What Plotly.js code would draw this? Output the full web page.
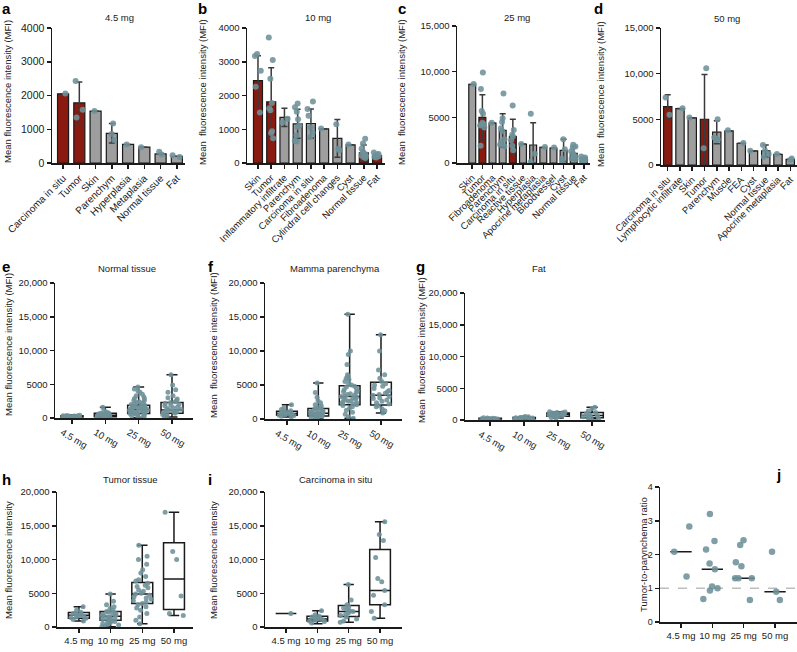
<!DOCTYPE html>
<html><head><meta charset="utf-8">
<script src="https://cdn.plot.ly/plotly-3.0.1.min.js"></script>
<style>html,body{margin:0;padding:0;background:#fff}#chart{width:797px;height:652px}</style>
</head><body><div id="chart"></div>
<script>
// ---------------- DATA ----------------
// Panel a: 4.5 mg
const aCats = ['Carcinoma in situ','Tumor','Skin','Parenchym','Hyperplasia','Metaplasia','Normal tissue','Fat'];
const aMeans = [2050,1780,1540,880,550,470,270,200];
const aErr = [null,620,null,290,null,null,null,null];
const aRed = [1,1,0,0,0,0,0,0];
const aDots = [[2060],[2430,1350,1580],[1540],[1170,680,860],[550],[470],[330,250],[230,180]];

// Panel b: 10 mg
const bCats = ['Skin','Tumor','Inflammatory infiltrate','Parenchym','Carcinoma in situ','Fibroadenoma','Cylindral cell changes','Cyst','Normal tissue','Fat'];
const bMeans = [2440,1810,1350,1160,1170,1010,730,540,300,220];
const bErr = [740,1010,270,430,430,null,560,null,230,null];
const bRed = [1,1,0,0,0,0,0,0,1,1];
const bDots = [[3230,3170,2730,2260,1500],[3720,3050,2500,1780,1620,1560,940,890,730],[1310,1200],
  [1760,1650,1520,1300,1110,1060,820,660,640],[1820,1600,1400,1050,900,760],[1020],[1150,420,380],[550],
  [720,580,420,330,300,260,220,200,180,150],[310,270,250,220,200,180,160]];

// Panel c: 25 mg
const cCats = ['Skin','Tumor','Fibroadenoma','Parenchym','Carcinoma in situ','Reactive tissue','Hyperplasia','Apocrine metaplasia','Bloodvessel','Cyst','Normal tissue','Fat'];
const cMeans = [8600,4990,4370,3570,2910,2080,1970,1710,1640,1380,1050,550];
const cErr = [null,2470,null,1830,1890,null,2430,null,null,1220,750,null];
const cRed = [0,1,0,0,1,0,0,0,0,0,0,0];
const cDots = [[8650],[9900,8100,5700,5400,4400,4300,4200,4100,3900,1900],[4400],[7600,4900,4500,3800,3500,2600,2300,2000,1800],
  [6300,3600,3100,2900,2500,1900,1400],[2080],[5400,1000,100],[1750],[1700],[2600,1500,500,100],
  [2000,1800,1700,1300,1100,900,700,500,400],[700,600,500,400,300,200]];

// Panel d: 50 mg
const dCats = ['Carcinoma in situ','Lymphocytic infiltrate','Skin','Tumor','Parenchym','Muscle','FEA','Cyst','Normal tissue','Apocrine metaplasia','Fat'];
const dMeans = [6400,6180,5160,5010,3590,3730,2380,1540,1540,1170,620];
const dErr = [1300,null,null,4900,1250,null,null,null,650,null,null];
const dRed = [1,0,0,1,0,0,0,0,0,0,0];
const dDots = [[7390,5490],[6200],[5200],[10600,1830],[5000,3000,2900,2800,2700],[3800],[2400],[1560],[2200,1600,1200,900],[1200],[700,550]];

// Box-plot panels (e-i)
const doses = ['4.5 mg','10 mg','25 mg','50 mg'];

// e: Normal tissue
const eMin = [50,50,50,150], eQ1 = [150,200,650,700], eMed = [250,400,1250,1200], eQ3 = [350,700,1900,2300], eMax = [450,1600,4600,6400];
const ePts = [[420,380,350,330,300,280,260,240,220,200,180,150,120,100,80,60],
  [1600,1100,900,750,700,650,600,550,500,450,400,380,350,300,250,200,180,150,100,60],
  [4600,4300,4000,3800,3500,3300,3100,2900,2800,2600,2500,2400,2300,2200,2100,2000,1900,1850,1800,1700,1650,1600,1500,1450,1400,1300,1250,1200,1150,1100,1000,950,900,850,800,750,700,650,600,500,400,300,200,100,50],
  [6400,4900,4200,3800,3300,3000,2800,2600,2400,2300,2200,2000,1900,1800,1600,1500,1400,1300,1200,1100,1000,950,900,800,700,600,500,400,300,150]];

// f: Mamma parenchyma
const fMin = [300,50,100,900], fQ1 = [550,450,2100,2050], fMed = [800,850,3300,3500], fQ3 = [1150,1550,4900,5400], fMax = [2100,5300,15400,12400];
const fPts = [[2100,1600,1400,1200,1100,1000,900,850,800,750,700,600,550,500,400,300],
  [5300,3900,3200,2700,2400,2100,1900,1700,1600,1500,1400,1300,1200,1100,1000,950,900,850,800,700,650,600,500,450,400,300,200,100,50],
  [15400,10000,9500,8000,6500,6200,6000,5800,5500,5200,5000,4800,4700,4500,4300,4100,4000,3900,3700,3600,3500,3400,3300,3200,3100,3000,2900,2800,2700,2600,2500,2400,2300,2200,2100,2000,1800,1600,1300,1000,700,300,100],
  [12400,10000,7200,6500,6000,5500,5200,5000,4800,4500,4200,4000,3800,3600,3500,3300,3100,3000,2800,2600,2400,2200,2000,1800,1500,1200,900]];

// g: Fat
const gMin = [100,100,300,200], gQ1 = [150,200,600,350], gMed = [200,300,900,700], gQ3 = [280,400,1100,1200], gMax = [350,550,1300,2000];
const gPts = [[350,300,280,250,220,200,180,150,120,100],
  [550,500,450,400,350,320,300,280,250,200,150,100],
  [1300,1250,1200,1150,1100,1050,1000,950,900,850,800,750,700,650,600,500,400,300],
  [2000,1800,1400,1200,1000,800,700,600,500,400,300,200]];

// h: Tumor tissue
const hMin = [900,50,500,1700], hQ1 = [1300,1000,3500,2600], hMed = [1750,1600,4900,7100], hQ3 = [2150,2300,6600,12500], hMax = [3000,4900,12100,17000];
const hPts = [[3000,2500,2200,2000,1900,1800,1700,1600,1500,1400,1300,1100,900],
  [4900,3800,3300,3000,2700,2500,2300,2200,2100,2000,1900,1800,1700,1600,1500,1400,1300,1200,1100,1000,900,800,700,600,500,400,300,200,50],
  [12100,10500,10000,9300,8500,8000,7500,7000,6800,6500,6200,6000,5800,5500,5300,5000,4900,4700,4500,4300,4100,3900,3700,3500,3300,3000,2800,2500,2000,1500,1000,500],
  [17000,11200,10000,4600,2000,1700]];

// i: Carcinoma in situ
const iMin = [2000,500,700,1300], iQ1 = [2000,900,1550,3300], iMed = [2000,1200,2300,5400], iQ3 = [2000,1600,3200,11500], iMax = [2000,2400,6300,15600];
const iPts = [[2000],
  [2400,1800,1600,1500,1400,1300,1200,1100,1000,900,800,600],
  [6300,4000,3300,3000,2800,2600,2400,2300,2100,1900,1700,1500,1200,900,700],
  [15600,13700,12800,10300,7200,6700,5400,4700,3300,2300,1300]];

// j: Tumor-to-parenchyma ratio
const jPts = [[2.83,2.08,1.35],[3.2,2.4,2.15,1.73,1.56,1.05,1.0,0.93,0.68],[2.42,2.28,1.77,1.65,1.3,1.3,1.3,0.65],[2.08,0.9,0.65]];
const jMed = [2.08,1.56,1.3,0.9];

// tick labels
const tick4k = [0,1000,2000,3000,4000], tick4kText = ['0','1000','2000','3000','4000'];
const tick15k = [0,5000,10000,15000], tick15kText = ['0','5000','10,000','15,000'];
const tick20k = [0,5000,10000,15000,20000], tick20kText = ['0','5000','10,000','15,000','20,000'];
const tickRatio = [0,1,2,3,4], tickRatioText = ['0','1','2','3','4'];

// ---------------- STYLE / LAYOUT ----------------
const W = 797, H = 652;
const FONT = '"Liberation Sans", Arial, Helvetica, sans-serif';
const INK = '#1a1a1a', RED = '#8a1a0f', GRAY = '#9e9e9e', DOT = 'rgba(110,145,152,0.88)';
const traces = [];
const layout = {width:W, height:H, margin:{l:0,r:0,t:0,b:0}, showlegend:false,
  paper_bgcolor:'#fff', plot_bgcolor:'rgba(0,0,0,0)', boxmode:'overlay',
  font:{family:FONT, size:10, color:INK}, annotations:[], shapes:[]};

function sfx(n){return n===1 ? '' : String(n);}
function addAxes(n, b, xo, yo){
  const s = sfx(n);
  layout['xaxis'+s] = Object.assign({domain:[b.x0/W, b.x1/W], anchor:'y'+s, type:'category', range:b.xr,
    showline:true, linecolor:INK, linewidth:1.5, ticks:'outside', ticklen:4, tickwidth:1.5, tickcolor:INK,
    showgrid:false, zeroline:false, fixedrange:true, tickfont:{family:FONT,size:9.5,color:INK}}, xo||{});
  layout['yaxis'+s] = Object.assign({domain:[1-b.yb/H, 1-b.yt/H], anchor:'x'+s, range:b.yr,
    showline:true, linecolor:INK, linewidth:1.5, ticks:'outside', ticklen:4, tickwidth:1.5, tickcolor:INK,
    showgrid:false, zeroline:false, fixedrange:true, tickfont:{family:FONT,size:9.5,color:INK}}, yo||{});
}
function ann(text, x, y, o){
  layout.annotations.push(Object.assign({text:text, xref:'paper', yref:'paper', x:x/W, y:1-y/H,
    showarrow:false, xanchor:'center', yanchor:'middle', font:{family:FONT,size:9.5,color:INK}}, o||{}));
}
function letter(t, x, y){ ann('<b>'+t+'</b>', x, y, {xanchor:'left', font:{family:FONT,size:15,color:'#000'}}); }
function ytitle(t, x, y){ ann(t, x, y, {textangle:-90}); }
function flat(cats, lists){ const x=[], y=[]; lists.forEach((l,i)=>l.forEach(v=>{x.push(cats[i]); y.push(v);})); return {x,y}; }

function pointsTrace(n, cats, lists, size, jitter, w){
  const p = flat(cats, lists), s = sfx(n);
  return {type:'box', x:p.x, y:p.y, xaxis:'x'+s, yaxis:'y'+s, boxpoints:'all', jitter:jitter, pointpos:0,
    marker:{color:DOT, size:size, line:{width:0}}, line:{width:0, color:'rgba(0,0,0,0)'},
    fillcolor:'rgba(0,0,0,0)', width:w, hoverinfo:'skip'};
}

function barPanel(n, cats, means, err, red, dots, b, tv, tt, tf){
  const s = sfx(n);
  addAxes(n, b, {categoryorder:'array', categoryarray:cats, tickmode:'array', tickvals:cats, ticktext:cats,
      tickangle:-45, tickfont:{family:FONT,size:tf,color:INK}},
    {tickvals:tv, ticktext:tt, tickfont:{family:FONT,size:b.ytf||9.5,color:INK}});
  traces.push({type:'bar', x:cats, y:means, xaxis:'x'+s, yaxis:'y'+s, width:0.68,
    marker:{color:red.map(r=>r?RED:GRAY), line:{color:INK, width:1.2}},
    error_y:{type:'data', array:err, visible:true, color:'#3a3a3a', thickness:1.5, width:3}, hoverinfo:'skip'});
  traces.push(pointsTrace(n, cats, dots, 6, 0.9, 0.6));
}

function boxPanel(n, mn, q1, md, q3, mx, pts, b, xo){
  const s = sfx(n);
  addAxes(n, b, Object.assign({categoryorder:'array', categoryarray:doses, tickmode:'array', tickvals:doses, ticktext:doses}, xo||{}),
    {tickvals:tick20k, ticktext:tick20kText});
  traces.push({type:'box', x:doses, q1:q1, median:md, q3:q3, lowerfence:mn, upperfence:mx,
    xaxis:'x'+s, yaxis:'y'+s, boxpoints:false, width:0.66, whiskerwidth:0.5,
    line:{color:INK, width:1.5}, fillcolor:'rgba(255,255,255,0)', hoverinfo:'skip'});
  traces.push(pointsTrace(n, doses, pts, 5, 0.9, 0.66));
}

// ---- top row ----
barPanel(1, aCats, aMeans, aErr, aRed, aDots, {x0:52,x1:185,yt:28,yb:163,xr:[-0.68,7.5],yr:[0,4000],ytf:10.5}, tick4k, tick4kText, 10);
barPanel(2, bCats, bMeans, bErr, bRed, bDots, {x0:247,x1:385,yt:28,yb:163,xr:[-0.83,9.6],yr:[0,4000]}, tick4k, tick4kText, 9.5);
barPanel(3, cCats, cMeans, cErr, cRed, cDots, {x0:457,x1:590,yt:26,yb:163,xr:[-1.5,11.6],yr:[0,15000]}, tick15k, tick15kText, 9.5);
barPanel(4, dCats, dMeans, dErr, dRed, dDots, {x0:661,x1:797,yt:28,yb:165,xr:[-0.55,10.55],yr:[0,15000]}, tick15k, tick15kText, 9.5);

// ---- middle row ----
const rot = {tickangle:30, ticklabelshift:-10};
boxPanel(5, eMin,eQ1,eMed,eQ3,eMax, ePts, {x0:55,x1:193,yt:283,yb:418,xr:[-0.51,3.63],yr:[0,20000]}, rot);
boxPanel(6, fMin,fQ1,fMed,fQ3,fMax, fPts, {x0:265,x1:402,yt:283,yb:419,xr:[-0.7,3.67],yr:[0,20000]}, rot);
boxPanel(7, gMin,gQ1,gMed,gQ3,gMax, gPts, {x0:465,x1:605,yt:293,yb:420,xr:[-0.74,3.38],yr:[0,20000]}, rot);

// ---- bottom row ----
boxPanel(8, hMin,hQ1,hMed,hQ3,hMax, hPts, {x0:57,x1:193,yt:492,yb:627,xr:[-0.69,3.6],yr:[0,20000]}, {tickangle:0});
boxPanel(9, iMin,iQ1,iMed,iQ3,iMax, iPts, {x0:265,x1:402,yt:492,yb:627,xr:[-0.67,3.7],yr:[0,20000]}, {tickangle:0});

// j
addAxes(10, {x0:660,x1:797,yt:487,yb:622,xr:[-0.67,3.7],yr:[0,4]},
  {categoryorder:'array', categoryarray:doses, tickmode:'array', tickvals:doses, ticktext:doses, tickangle:0},
  {tickvals:tickRatio, ticktext:tickRatioText, tickfont:{family:FONT,size:9,color:INK}});
layout.shapes.push({type:'line', xref:'x10 domain', yref:'y10', x0:0, x1:1, y0:1, y1:1, layer:'below',
  line:{color:'#bdbdbd', width:1.5, dash:'dash'}});
traces.push({type:'box', x:doses, q1:jMed, median:jMed, q3:jMed, lowerfence:jMed, upperfence:jMed,
  xaxis:'x10', yaxis:'y10', boxpoints:false, width:0.68, whiskerwidth:0, line:{color:INK, width:1.5},
  fillcolor:'rgba(0,0,0,0)', hoverinfo:'skip'});
traces.push(pointsTrace(10, doses, jPts, 6.5, 1.0, 0.68));

// ---- titles ----
ann('4.5 mg', 119, 18); ann('10 mg', 318, 18); ann('25 mg', 517, 18); ann('50 mg', 727, 19);
ann('Normal tissue', 127, 269); ann('Mamma parenchyma', 335, 269); ann('Fat', 539, 269);
ann('Tumor tissue', 130, 479); ann('Carcinoma in situ', 335, 479);

ytitle('Mean fluorescence intensity (MFI)', 8, 92);
ytitle('Mean  fluorescence intensity (MFI)', 203, 92);
ytitle('Mean  fluorescence intensity (MFI)', 402, 92);
ytitle('Mean  fluorescence intensity (MFI)', 600, 94);
ytitle('Mean fluorescence intensity (MFI)', 8, 345);
ytitle('Mean  fluorescence intensity (MFI)', 213, 345);
ytitle('Mean  fluorescence intensity (MFI)', 421, 350);
ytitle('Mean fluorescence intensity', 8, 560);
ytitle('Mean fluorescence intensity', 213, 560);
ytitle('Tumor-to-parynchema ratio', 643, 555);

letter('a', 0, 8); letter('b', 196, 8); letter('c', 396, 8); letter('d', 592, 8);
letter('e', 0, 266); letter('f', 206, 266); letter('g', 414, 266);
letter('h', 0, 479); letter('i', 206, 479); letter('j', 774, 474);

Plotly.newPlot('chart', traces, layout, {displayModeBar:false, staticPlot:true});
</script></body></html>
